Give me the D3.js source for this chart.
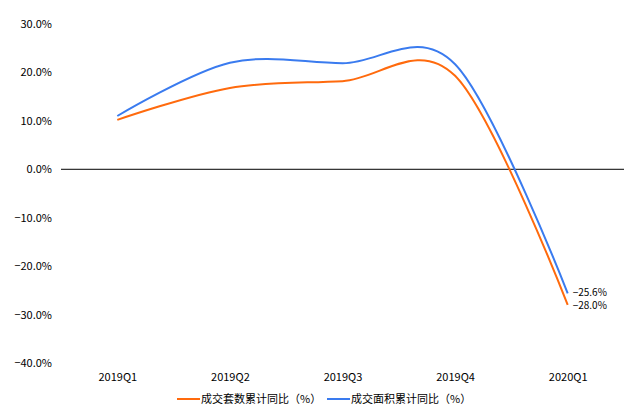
<!DOCTYPE html>
<html>
<head>
<meta charset="utf-8">
<script src="https://cdn.jsdelivr.net/npm/d3@7"></script>
<style>
  body { margin: 0; background: #fff; }
  svg text { font-family: "Noto Sans CJK SC", "DejaVu Sans", sans-serif; fill: #000; }
</style>
</head>
<body>
<div id="chart"></div>
<script>
// data
const categories = ["2019Q1", "2019Q2", "2019Q3", "2019Q4", "2020Q1"];
const seriesNames = ["成交套数累计同比（%）", "成交面积累计同比（%）"];
const unitsYoY = [10.2, 16.8, 18.2, 19.3, -28.0];   // 成交套数
const areaYoY = [11.0, 22.0, 21.9, 21.7, -25.6];    // 成交面积
const yTicks = [30, 20, 10, 0, -10, -20, -30, -40];
const colors = ["#ff6a0d", "#3a7bef"];

const width = 640, height = 418;
const plot = { left: 61, right: 624, top: 24, bottom: 363 };

const svg = d3.select("#chart")
  .append("svg")
  .attr("width", width)
  .attr("height", height);

const x = d3.scalePoint()
  .domain(categories)
  .range([plot.left, plot.right])
  .padding(0.5);

const y = d3.scaleLinear()
  .domain([-40, 30])
  .range([plot.bottom, plot.top]);

// Y axis labels (no line)
svg.append("g")
  .attr("transform", "translate(" + (plot.left - 9) + ",0)")
  .call(d3.axisLeft(y).tickValues(yTicks).tickSize(0).tickPadding(0)
    .tickFormat(d => d3.format(".1f")(d) + "%"))
  .call(g => g.select(".domain").remove())
  .selectAll("text")
  .attr("font-size", 11)
  .attr("font-family", "\"Noto Sans CJK SC\", sans-serif");

// zero line
svg.append("line")
  .attr("x1", plot.left)
  .attr("x2", plot.right)
  .attr("y1", y(0))
  .attr("y2", y(0))
  .attr("stroke", "#000")
  .attr("stroke-width", 1);

// X axis labels
svg.append("g")
  .attr("transform", "translate(0," + (plot.bottom + 10) + ")")
  .call(d3.axisBottom(x).tickSize(0).tickPadding(0))
  .call(g => g.select(".domain").remove())
  .selectAll("text")
  .attr("font-size", 11)
  .attr("font-family", "\"Noto Sans CJK SC\", sans-serif");

// smooth lines (Excel-like Catmull-Rom)
const line = d3.line()
  .x((d, i) => x(categories[i]))
  .y(d => y(d))
  .curve(d3.curveCardinal.tension(0));

[unitsYoY, areaYoY].forEach((values, k) => {
  svg.append("path")
    .datum(values)
    .attr("d", line)
    .attr("fill", "none")
    .attr("stroke", colors[k])
    .attr("stroke-width", 2);
});

// end labels
const last = categories.length - 1;
[[areaYoY, -1], [unitsYoY, 1]].forEach(([values, shift]) => {
  svg.append("text")
    .attr("x", x(categories[last]) + 5)
    .attr("y", y(values[last]) + shift)
    .attr("dy", "0.35em")
    .attr("font-size", 10)
    .text(d3.format(".1f")(values[last]) + "%");
});

// legend
const legend = svg.append("g");
const legendX = [177, 327];
seriesNames.forEach((name, k) => {
  legend.append("line")
    .attr("x1", legendX[k])
    .attr("x2", legendX[k] + 23)
    .attr("y1", 399)
    .attr("y2", 399)
    .attr("stroke", colors[k])
    .attr("stroke-width", 2);
  legend.append("text")
    .attr("x", legendX[k] + 24)
    .attr("y", 399)
    .attr("dy", "0.35em")
    .attr("font-size", 11)
    .text(name);
});
</script>
</body>
</html>
